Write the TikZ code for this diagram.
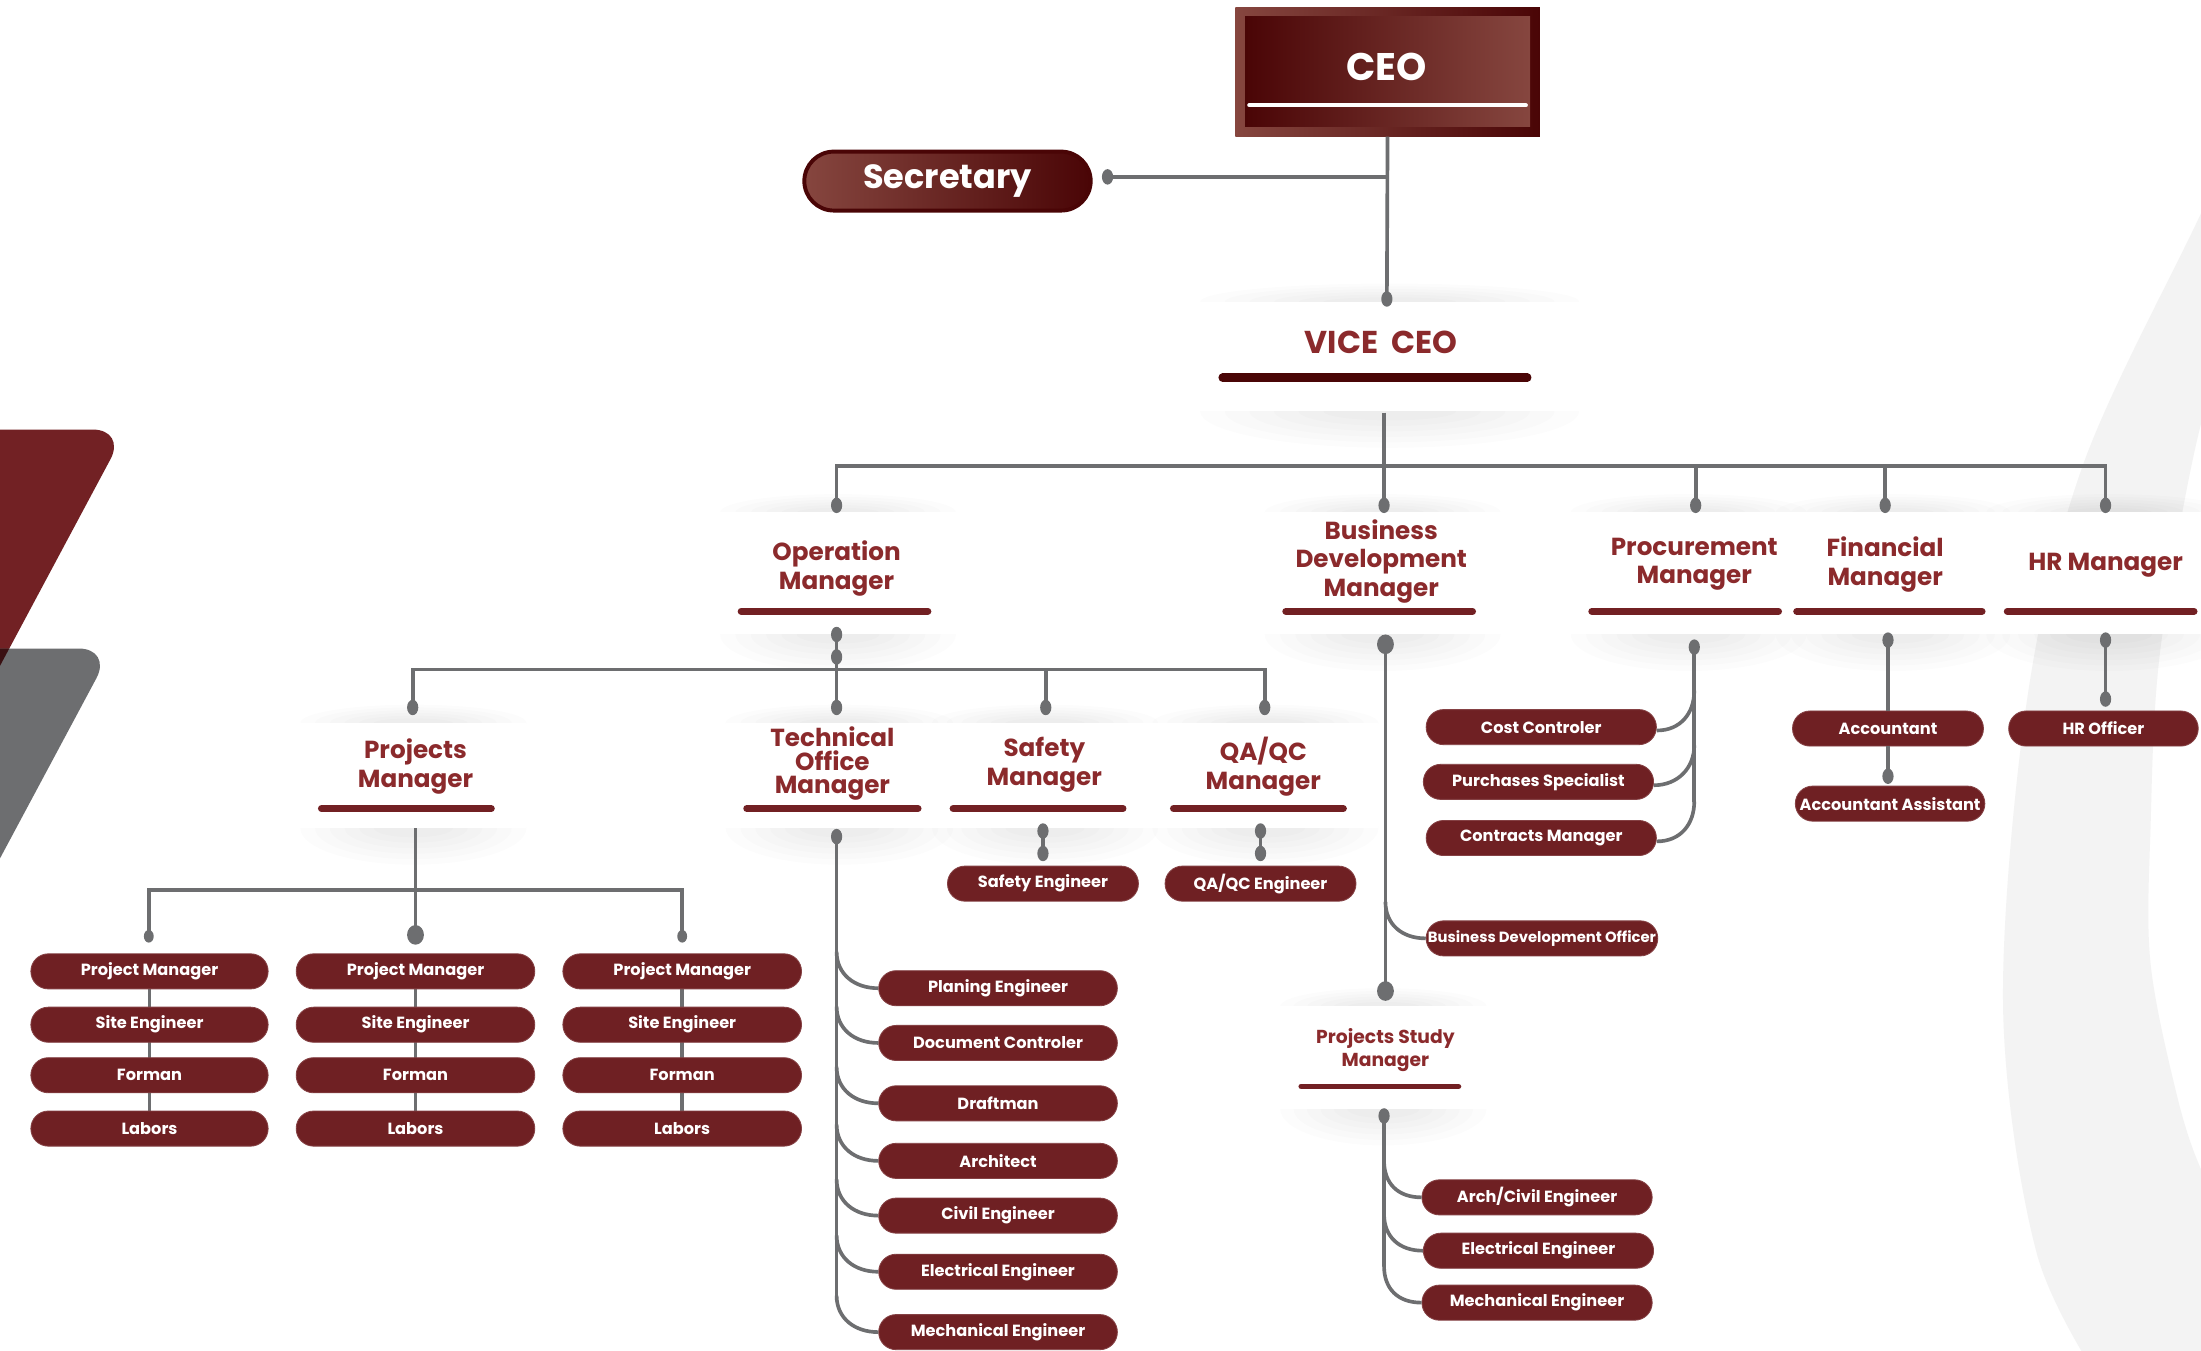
\documentclass[tikz,border=0pt]{standalone}
\usepackage{fontspec}
\setmainfont{Poppins}
\usetikzlibrary{calc}
\definecolor{boxred}{HTML}{6F2023}
\definecolor{titlered}{HTML}{8B2A2C}
\definecolor{barred}{HTML}{722023}
\definecolor{darkred}{HTML}{4A0506}
\definecolor{ceolight}{HTML}{86463F}
\definecolor{linegray}{HTML}{6D6E70}
\definecolor{bandgray}{HTML}{F3F3F3}
\definecolor{decored}{HTML}{722124}
\definecolor{decogray}{HTML}{6D6E70}
\definecolor{decodark}{HTML}{3A1012}
\tikzset{
 conn/.style={draw=linegray, line width=0.65mm},
 pill/.style={fill=boxred, draw=boxred!85!white, line width=0.15mm, rounded corners=3.1mm, minimum height=6.25mm, minimum width=#1, inner sep=0pt, text=white, font=\bfseries\fontsize{8.2}{9}\selectfont},
 title/.style={text=titlered, align=center, font=\bfseries\fontsize{12.5}{14.5}\selectfont, inner sep=0pt},
 bar/.style={draw=barred, line width=1.25mm, line cap=round},
 gdot/.style={fill=linegray},
}
\begin{document}
\begin{tikzpicture}[x=0.25mm,y=-0.25mm]
\useasboundingbox (0,0) rectangle (1568,962);
\clip (0,0) rectangle (1568,962);
\fill[white] (0,0) rectangle (1568,962);

% right background swoosh
\fill[bandgray] plot[smooth, tension=0.55] coordinates {(1620,40) (1568,152) (1484,331) (1444,499) (1427,718) (1451,893) (1500,990)} -- (1620,990) -- (1620,880) -- plot[smooth, tension=0.55] coordinates {(1590,870) (1568,833) (1551,781) (1532,686) (1532,591) (1539,463) (1568,302) (1600,230)} -- cycle;

% left decorations
\fill[decored, rounded corners=6mm] (-80,306) -- (90,306) -- (-80,624) -- cycle;
\fill[decogray, rounded corners=6mm] (-80,462) -- (80,462) -- (-80,761) -- cycle;
\begin{scope}
\clip[rounded corners=6mm] (-80,306) -- (90,306) -- (-80,624) -- cycle;
\fill[decodark, rounded corners=6mm] (-80,462) -- (80,462) -- (-80,761) -- cycle;
\end{scope}

% card shadows
\foreach \ca/\cb/\ct/\cu in {855/1125/215/293, 513/681/365/452, 901/1069/365/452, 1119/1287/365/452, 1265/1432/365/452, 1415/1590/365/452, 214/375/515/590, 517/679/515/590, 664/825/515/590, 821/982/515/590, 912/1059/717/790}{
  \pgfmathsetmacro\shx{(\ca+\cb)/2}
  \pgfmathsetmacro\shw{(\cb-\ca)/2}
  \foreach \k in {0,...,5}{
    \fill[black, fill opacity=0.013] (\shx,\ct) ellipse [x radius={\shw*(1-0.13*\k)}, y radius={13*(1-0.15*\k)}];
    \fill[black, fill opacity=0.013] (\shx,\cu) ellipse [x radius={\shw*(1-0.13*\k)}, y radius={26*(1-0.15*\k)}];
  }
}
\foreach \ca/\cb/\ct/\cu in {855/1125/215/293, 513/681/365/452, 901/1069/365/452, 1119/1287/365/452, 1265/1432/365/452, 1415/1590/365/452, 214/375/515/590, 517/679/515/590, 664/825/515/590, 821/982/515/590, 912/1059/717/790}{
  \fill[white] (\ca,\ct) rectangle (\cb,\cu);
}

% CEO
\node (ceo) [minimum width=54.25mm, minimum height=23mm, inner sep=0pt, left color=ceolight, right color=darkred] at (988.5,51) {};
\node (ceoin) [minimum width=50.75mm, minimum height=19.5mm, inner sep=0pt, left color=darkred, right color=ceolight] at (988.5,51) {};
\node (ceot) [text=white, inner sep=0pt, font=\bfseries\fontsize{19.5}{20}\selectfont] at (988,48) {CEO};
\draw[white, line width=0.75mm, line cap=round] (890,75) -- (1087,75);

% Secretary
\node (sec) [minimum width=51mm, minimum height=10.5mm, rounded corners=5.25mm, left color=ceolight, right color=darkred, draw=darkred, line width=0.7mm, text=white, font=\bfseries\fontsize{17}{18}\selectfont, inner sep=0pt] at (675,129) {Secretary};

% coordinates
\coordinate (ceodot) at (988,213);
\coordinate (secjn) at (988,126);
\coordinate (secdot) at (789,126);
\coordinate (vicebot) at (986,294);
\coordinate (vbus) at (986,332);
\coordinate (opT) at (596,360);
\coordinate (bdT) at (986,360);
\coordinate (prT) at (1208,360);
\coordinate (fiT) at (1343,360);
\coordinate (hrT) at (1500,360);
\coordinate (opB) at (596,452);
\coordinate (opB2) at (596,468);
\coordinate (opbus) at (596,477);
\coordinate (pjT) at (294,504);
\coordinate (tcT) at (596,504);
\coordinate (sfT) at (745,504);
\coordinate (qaT) at (901,504);
\coordinate (bdB) at (987,459);
\coordinate (psT) at (987,706);
\coordinate (prB) at (1207,461);
\coordinate (fiB) at (1345,456);
\coordinate (hrB) at (1500,456);
\coordinate (hrB2) at (1500,498);
\coordinate (pjB) at (296,590);
\coordinate (pjbus) at (296,634);
\coordinate (c1T) at (106,667);
\coordinate (c2T) at (296,666);
\coordinate (c3T) at (486,667);
\coordinate (tcB) at (596,596);
\coordinate (sfB) at (743,592);
\coordinate (sfB2) at (743,608);
\coordinate (qaB) at (898,592);
\coordinate (qaB2) at (898,608);
\coordinate (accdot) at (1345,553);
\coordinate (psB) at (986,795);
% column anchors
\coordinate (k1a) at (106.5,692); \coordinate (k1b) at (106.5,730); \coordinate (k1c) at (106.5,766); \coordinate (k1d) at (106.5,804);
\coordinate (k2a) at (296,692); \coordinate (k2b) at (296,730); \coordinate (k2c) at (296,766); \coordinate (k2d) at (296,804);
\coordinate (k3a) at (486,692); \coordinate (k3b) at (486,730); \coordinate (k3c) at (486,766); \coordinate (k3d) at (486,804);
\draw[conn] (k1a) -- (k1d);
\draw[conn] (k2a) -- (k2d);
\draw[conn] (k3a) -- (k3d);

% titles
\node (vice) [text=titlered, inner sep=0pt, font=\bfseries\fontsize{16}{18}\selectfont] at (984,244) {VICE~~CEO};
\draw[bar, draw=darkred, line width=1.5mm] (871,269) -- (1088,269);
\node[title] (opm) at (596,405) {Operation\\Manager};
\node[title] (bdm) at (984,400) {Business\\Development\\Manager};
\node[title] (prm) at (1207,402) {Procurement\\Manager};
\node[title] (fim) at (1343,402) {Financial\\Manager};
\node[title] (hrm) at (1500,403) {HR Manager};
\draw[bar] (528,435.5) -- (661,435.5);
\draw[bar] (916,435.5) -- (1049,435.5);
\draw[bar] (1134,435.5) -- (1267,435.5);
\draw[bar] (1280,435.5) -- (1412,435.5);
\draw[bar] (1430,435.5) -- (1563,435.5);
\node[title] (pjm) at (296,546) {Projects\\Manager};
\node[title, font=\bfseries\fontsize{12.5}{12}\selectfont] (tcm) at (593,544) {Technical\\Office\\Manager};
\node[title] (sfm) at (744,545) {Safety\\Manager};
\node[title] (qam) at (900,546) {QA/QC\\Manager};
\draw[bar] (229,576) -- (350,576);
\draw[bar] (532,576) -- (654,576);
\draw[bar] (679,576) -- (800,576);
\draw[bar] (836,576) -- (957,576);
\node[title, font=\bfseries\fontsize{9.5}{12}\selectfont] (psm) at (987,748) {Projects Study\\Manager};
\draw[bar, line width=1mm] (927,774) -- (1039,774);

% boxes
\node[pill=42.25mm] (p1a) at (k1a) {Project Manager};
\node[pill=42.25mm] (p1b) at (k1b) {Site Engineer};
\node[pill=42.25mm] (p1c) at (k1c) {Forman};
\node[pill=42.25mm] (p1d) at (k1d) {Labors};
\node[pill=42.5mm] (p2a) at (k2a) {Project Manager};
\node[pill=42.5mm] (p2b) at (k2b) {Site Engineer};
\node[pill=42.5mm] (p2c) at (k2c) {Forman};
\node[pill=42.5mm] (p2d) at (k2d) {Labors};
\node[pill=42.5mm] (p3a) at (k3a) {Project Manager};
\node[pill=42.5mm] (p3b) at (k3b) {Site Engineer};
\node[pill=42.5mm] (p3c) at (k3c) {Forman};
\node[pill=42.5mm] (p3d) at (k3d) {Labors};
\node[pill=42.5mm] (t1) at (711,704) {Planing Engineer};
\node[pill=42.5mm] (t2) at (711,743) {Document Controler};
\node[pill=42.5mm] (t3) at (711,786) {Draftman};
\node[pill=42.5mm] (t4) at (711,827) {Architect};
\node[pill=42.5mm] (t5) at (711,866) {Civil Engineer};
\node[pill=42.5mm] (t6) at (711,906) {Electrical Engineer};
\node[pill=42.5mm] (t7) at (711,949) {Mechanical Engineer};
\node[pill=34mm] (se) at (743,629.5) {Safety Engineer};
\node[pill=34mm] (qe) at (898,629.5) {QA/QC Engineer};
\node[pill=41mm] (r1) at (1098,518) {Cost Controler};
\node[pill=41mm] (r2) at (1096,557) {Purchases Specialist};
\node[pill=41mm] (r3) at (1098,597) {Contracts Manager};
\node[pill=41.25mm, font=\bfseries\fontsize{7.5}{9}\selectfont] (bdo) at (1098.5,668.5) {Business Development Officer};
\node[pill=34mm] (a1) at (1345,519) {Accountant};
\node[pill=33.75mm] (a2) at (1346.5,572.5) {Accountant Assistant};
\node[pill=33.75mm] (h1) at (1498.5,519) {HR Officer};
\node[pill=41mm] (s1) at (1095,853) {Arch/Civil Engineer};
\node[pill=41mm] (s2) at (1096,891) {Electrical Engineer};
\node[pill=41mm] (s3) at (1095,928) {Mechanical Engineer};

% connectors
\draw[conn] (ceo.south) -- (ceodot);
\draw[conn] (secjn) -- (secdot);
\draw[conn] (vicebot) -- (bdT);
\draw[conn] (opT) |- (vbus) -| (hrT);
\draw[conn] (prT) -- (prT |- vbus);
\draw[conn] (fiT) -- (fiT |- vbus);
\draw[conn] (opB) -- (opbus);
\draw[conn] (pjT) |- (opbus) -| (qaT);
\draw[conn] (tcT) -- (tcT |- opbus);
\draw[conn] (sfT) -- (sfT |- opbus);
\draw[conn] (pjB) -- (c2T);
\draw[conn] (c1T) |- (pjbus) -| (c3T);
\draw[conn] (sfB) -- (sfB2);
\draw[conn] (qaB) -- (qaB2);
\draw[conn] (bdB) -- (psT);
\draw[conn] ($(bdB |- bdo.west)+(0,-26)$) .. controls +(0,16) and +(-17,0) .. (bdo.west);
\draw[conn] (tcB) -- ($(tcB |- t7.west)+(0,-26)$);
\foreach \n in {t1,t2,t3,t4,t5,t6,t7}{
  \draw[conn] ($(tcB |- \n.west)+(0,-26)$) .. controls +(0,16) and +(-17,0) .. (\n.west);
}
\draw[conn] (prB) -- ($(prB |- r3.east)+(0,-26)$);
\foreach \n in {r1,r2,r3}{
  \draw[conn] ($(prB |- \n.east)+(0,-26)$) .. controls +(0,16) and +(17,0) .. ([yshift=-0.6mm]\n.east);
}
\draw[conn] (psB) -- ($(psB |- s3.west)+(0,-26)$);
\foreach \n in {s1,s2,s3}{
  \draw[conn] ($(psB |- \n.west)+(0,-26)$) .. controls +(0,16) and +(-17,0) .. (\n.west);
}
\draw[conn] (fiB) -- (a1.north);
\draw[conn] (a1.south) -- (accdot);
\draw[conn] (hrB) -- (hrB2);

% dots
\foreach \d in {ceodot,secdot,opT,bdT,prT,fiT,hrT,opB,opB2,pjT,tcT,sfT,qaT,tcB,sfB,sfB2,qaB,qaB2,prB,fiB,hrB,hrB2,accdot,psB}{
  \fill[gdot] (\d) ellipse [x radius=4, y radius=5.5];
}
\foreach \d in {c1T,c3T}{
  \fill[gdot] (\d) ellipse [x radius=3.5, y radius=4.5];
}
\foreach \d in {bdB,psT,c2T}{
  \fill[gdot] (\d) ellipse [x radius=6, y radius=7];
}
\end{tikzpicture}
\end{document}
